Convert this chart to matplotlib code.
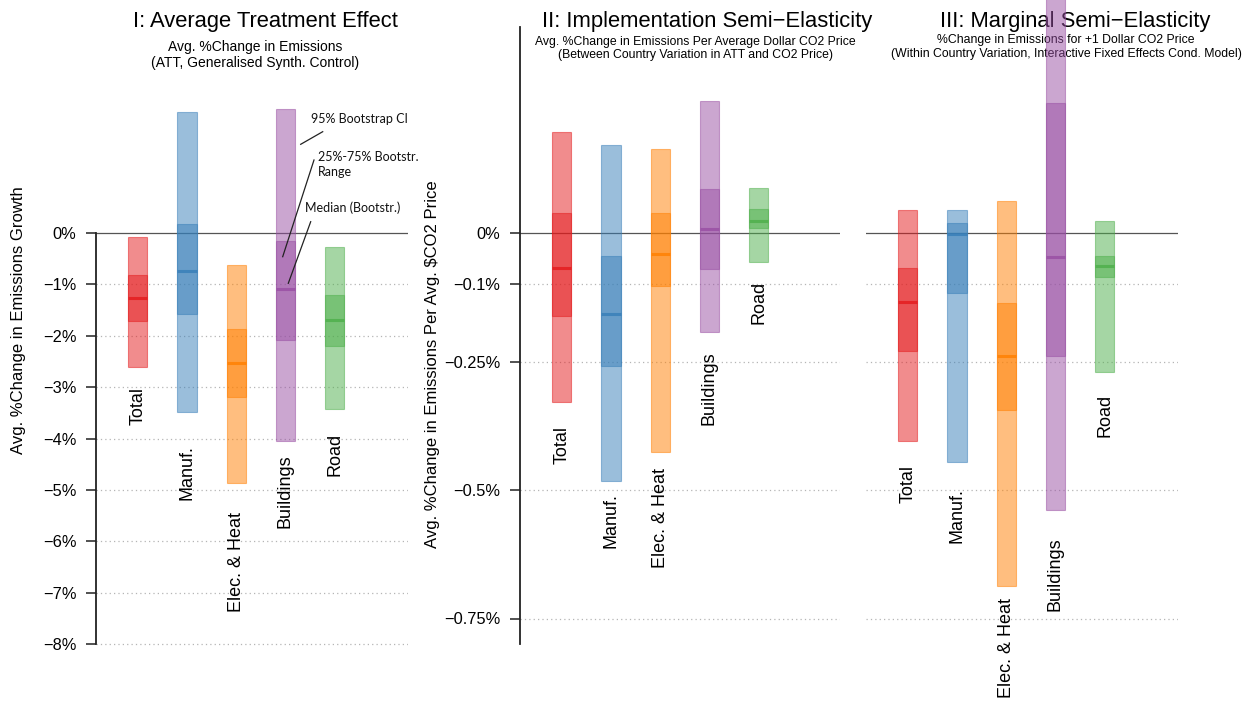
import matplotlib
matplotlib.use('Agg')
import matplotlib.pyplot as plt
from matplotlib.lines import Line2D
import numpy as np

plt.rcParams['font.family'] = ['Liberation Sans', 'DejaVu Sans']

SECTORS = ['Total', 'Manuf.', 'Elec. & Heat', 'Buildings', 'Road']
COLORS = ['#E41A1C', '#377EB8', '#FF7F00', '#984EA3', '#4DAF4A']

# I: average treatment effect, % change in emissions growth
att_lo95 = [-2.60, -3.49, -4.87, -4.04, -3.42]
att_hi95 = [-0.07, 2.35, -0.62, 2.41, -0.28]
att_q25 = [-1.71, -1.57, -3.20, -2.08, -2.19]
att_q75 = [-0.82, 0.18, -1.87, -0.15, -1.20]
att_med = [-1.27, -0.73, -2.52, -1.08, -1.69]

# II: implementation semi-elasticity, % per avg. dollar CO2 price
impl_lo95 = [-0.329, -0.482, -0.426, -0.192, -0.057]
impl_hi95 = [0.197, 0.171, 0.163, 0.257, 0.087]
impl_q25 = [-0.162, -0.258, -0.104, -0.070, 0.009]
impl_q75 = [0.038, -0.044, 0.039, 0.086, 0.046]
impl_med = [-0.068, -0.158, -0.041, 0.007, 0.023]

# III: marginal semi-elasticity, % for +1 dollar CO2 price
marg_lo95 = [-0.405, -0.445, -0.686, -0.538, -0.270]
marg_hi95 = [0.044, 0.045, 0.063, 0.60, 0.024]
marg_q25 = [-0.230, -0.117, -0.345, -0.240, -0.085]
marg_q75 = [-0.068, 0.019, -0.137, 0.253, -0.044]
marg_med = [-0.135, -0.001, -0.239, -0.046, -0.065]

att_ticks = [0, -1, -2, -3, -4, -5, -6, -7, -8]
att_ticklabels = ['0%', '\u22121%', '\u22122%', '\u22123%', '\u22124%',
                  '\u22125%', '\u22126%', '\u22127%', '\u22128%']
semi_ticks = [0, -0.1, -0.25, -0.5, -0.75]
semi_ticklabels = ['0%', '\u22120.1%', '\u22120.25%', '\u22120.5%', '\u22120.75%']

W, H = 1251, 702
ZERO_Y = 233          # pixel row of the zero line
BAR_W = 0.39


def P(x, y):
    return x / W, 1 - y / H


def panel(fig, left, right, ppu, lo95, hi95, q25, q75, med, label_gap):
    ax = fig.add_axes([left / W, 0, (right - left) / W, 1])
    ax.patch.set_visible(False)
    ax.set_xlim(0.15, 0.15 + (right - left) / 49.2)
    ax.set_ylim(-(H - ZERO_Y) / ppu, ZERO_Y / ppu)
    for s in ['top', 'right', 'bottom']:
        ax.spines[s].set_visible(False)
    ax.set_xticks([])
    x = np.arange(1, 6)
    for i in range(5):
        c = COLORS[i]
        ax.bar(x[i], hi95[i] - lo95[i], bottom=lo95[i], width=BAR_W,
               color=c, alpha=0.5, edgecolor=c, linewidth=0.8, zorder=2)
        ax.bar(x[i], q75[i] - q25[i], bottom=q25[i], width=BAR_W,
               color=c, alpha=0.5, edgecolor=c, linewidth=0.8, zorder=3)
        ax.hlines(med[i], x[i] - BAR_W / 2, x[i] + BAR_W / 2, color=c,
                  alpha=0.8, lw=2.2, zorder=4)
        ax.text(x[i], lo95[i] - label_gap[i] / ppu, SECTORS[i], rotation=90,
                ha='center', va='top', fontsize=13, zorder=5)
    ax.axhline(0, color='#555555', lw=0.9, zorder=1)
    return ax


def grid(ax, ticks):
    for v in ticks[1:]:
        ax.axhline(v, color='#b5b5b5', lw=0.9, ls=(0, (1, 2.5)), zorder=0)


def yaxis(ax, ticks, labels, lo, hi):
    ax.set_yticks(ticks)
    ax.set_yticklabels(labels)
    ax.spines['left'].set_bounds(lo, hi)
    ax.spines['left'].set_linewidth(1.3)
    ax.spines['left'].set_color('#222222')
    ax.tick_params(axis='y', length=7, width=1.1, pad=7, labelsize=11.8,
                   color='#222222')


fig = plt.figure(figsize=(W / 100, H / 100), dpi=100)

ax1 = panel(fig, 96, 408, 51.4, att_lo95, att_hi95, att_q25, att_q75, att_med,
            [20, 33, 29, 14, 24])
grid(ax1, att_ticks)
yaxis(ax1, att_ticks, att_ticklabels, -8, 0)

ax2 = panel(fig, 520, 840, 514, impl_lo95, impl_hi95, impl_q25, impl_q75,
            impl_med, [24, 12, 16, 20, 19])
grid(ax2, semi_ticks)
yaxis(ax2, semi_ticks, semi_ticklabels, -0.80, 0.40)

ax3 = panel(fig, 866, 1178, 514, marg_lo95, marg_hi95, marg_q25, marg_q75,
            marg_med, [24, 26, 12, 28, 22])
grid(ax3, semi_ticks)
ax3.spines['left'].set_visible(False)
ax3.set_yticks([])

# axis titles
fig.text(*P(19, 320), 'Avg. %Change in Emissions Growth', rotation=90,
         ha='center', va='center', fontsize=12)
fig.text(*P(433, 364), 'Avg. %Change in Emissions Per Avg. $CO2 Price',
         rotation=90, ha='center', va='center', fontsize=12)

# panel headings (kept beneath the bars)
heads = [
    (265, 'I: Average Treatment Effect', 255,
     ['Avg. %Change in Emissions', '(ATT, Generalised Synth. Control)'], 10, 46.5, 16.8),
    (707, 'II: Implementation Semi\u2212Elasticity', 695,
     ['Avg. %Change in Emissions Per Average Dollar CO2 Price',
      '(Between Country Variation in ATT and CO2 Price)'], 8.8, 41.5, 13.6),
    (1075, 'III: Marginal Semi\u2212Elasticity', 1066,
     ['%Change in Emissions for +1 Dollar CO2 Price',
      '(Within Country Variation, Interactive Fixed Effects Cond. Model)'], 8.8, 40, 13.6),
]
for tx, title, sx, subs, sfs, sy, sdy in heads:
    fig.text(*P(tx, 21.5), title, ha='center', va='center', fontsize=15.8,
             zorder=-1)
    for k, s in enumerate(subs):
        fig.text(*P(sx, sy + k * sdy), s, ha='center', va='center',
                 fontsize=sfs, zorder=-1)

# legend-style notes on the Buildings bar
note_font = dict(family=['Lato', 'DejaVu Sans'], fontsize=9, va='center',
                 ha='left', color='#111111')
fig.text(*P(311, 119), '95% Bootstrap CI', **note_font)
fig.text(*P(318, 157), '25%-75% Bootstr.', **note_font)
fig.text(*P(318, 172), 'Range', **note_font)
fig.text(*P(305, 208), 'Median (Bootstr.)', **note_font)
for (x0, y0), (x1, y1) in [((300.7, 144.3), (322.7, 131.7)),
                           ((314, 160), (282.7, 256.7)),
                           ((310.7, 221.7), (288.3, 283.3))]:
    a, b = P(x0, y0)
    c, d = P(x1, y1)
    fig.add_artist(Line2D([a, c], [b, d], transform=fig.transFigure,
                          color='#222222', lw=0.9))

fig.savefig('out.png', dpi=100)
plt.close()
